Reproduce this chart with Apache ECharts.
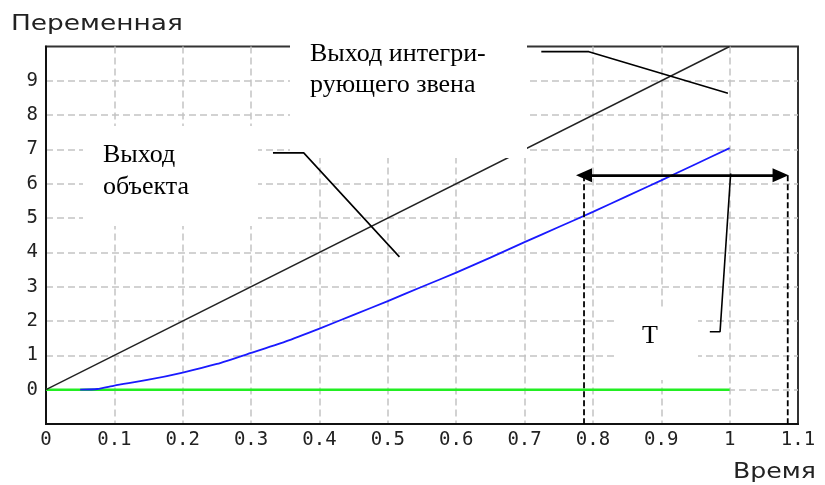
<!DOCTYPE html>
<html>
<head>
<meta charset="utf-8">
<script src="https://cdn.jsdelivr.net/npm/echarts@6/dist/echarts.min.js"></script>
<style>
  html, body { margin: 0; padding: 0; background: #fff; }
  #chart { width: 825px; height: 485px; }
</style>
</head>
<body>
<div id="chart"></div>
<script>
// curves: [time, value]
const integratorOut = [[0, 0], [1, 10]];
const objectOut = [
  [0.05, 0], [0.075, 0.02], [0.1, 0.12], [0.15, 0.29], [0.2, 0.5],
  [0.25, 0.75], [0.3, 1.07], [0.35, 1.4], [0.4, 1.78], [0.45, 2.18],
  [0.5, 2.58], [0.55, 3.0], [0.6, 3.41], [0.65, 3.85], [0.7, 4.3],
  [0.75, 4.74], [0.8, 5.18], [0.85, 5.64], [0.9, 6.1], [0.95, 6.57], [1.0, 7.04]
];
const zeroOut = [[0, 0], [1, 0]];

// annotation lines, also in data units
const integratorLeader = [[0.7245, 9.85], [0.794, 9.85], [0.9975, 8.64]];
const objectLeader = [[0.332, 6.9], [0.377, 6.9], [0.517, 3.87]];
const periodLeader = [[0.971, 1.69], [0.986, 1.69], [1.0015, 6.3]];
const periodArrow = [[0.787, 6.245], [1.0745, 6.245]];
const periodLeftEdge = [[0.787, 6.245], [0.787, -1]];
const periodRightEdge = [[1.085, 6.245], [1.085, -1]];

// value axis shows labels 0..9 only
const yLabels = [0, 1, 2, 3, 4, 5, 6, 7, 8, 9];

const gridLine = { color: "#c4c4c4", width: 1.5, type: [7, 4] };
const tickFont = { fontFamily: "DejaVu Sans Mono", fontSize: 19, color: "#222" };

function plainLine(data, color, width, z, dash) {
  return {
    type: "line",
    data: data,
    symbol: "none",
    silent: true,
    z: z,
    lineStyle: { color: color, width: width, type: dash || "solid" },
  };
}

const chart = echarts.init(document.getElementById("chart"));

const option = {
  animation: false,
  backgroundColor: "#fff",
  grid: {
    left: 46,
    right: 27,
    top: 46.5,
    bottom: 61,
    show: true,
    borderColor: "#333",
    borderWidth: 2,
  },
  xAxis: {
    type: "value",
    min: 0,
    max: 1.1,
    interval: 0.1,
    axisLine: { onZero: false, lineStyle: { color: "#111", width: 2 } },
    axisTick: { show: false },
    axisLabel: {
      ...tickFont,
      margin: 7,
      formatter: (v) => String(+v.toFixed(1)),
    },
    splitLine: { show: true, showMinLine: false, showMaxLine: false, lineStyle: gridLine },
  },
  yAxis: {
    type: "value",
    min: -1,
    max: 10,
    interval: 1,
    axisLine: { show: true, onZero: false, lineStyle: { color: "#111", width: 2 } },
    axisTick: { show: false },
    axisLabel: {
      ...tickFont,
      margin: 8,
      formatter: (v) => (yLabels.includes(v) ? String(v) : ""),
    },
    splitLine: { show: true, showMinLine: false, showMaxLine: false, lineStyle: gridLine },
  },
  // white text boxes sit over the grid, text on top
  graphic: [
    { type: "rect", z: 3, silent: true, shape: { x: 290, y: 38, width: 237, height: 120 }, style: { fill: "#fff" } },
    { type: "rect", z: 3, silent: true, shape: { x: 83, y: 126, width: 175, height: 100 }, style: { fill: "#fff" } },
    { type: "rect", z: 3, silent: true, shape: { x: 617, y: 308, width: 81, height: 72 }, style: { fill: "#fff" } },
    {
      type: "text", z: 6, x: 310, y: 38.5,
      style: { text: "Выход интегри-\nрующего звена", font: "26px 'Liberation Serif'", lineHeight: 31, fill: "#000", verticalAlign: "top" },
    },
    {
      type: "text", z: 6, x: 103, y: 139.5,
      style: { text: "Выход\nобъекта", font: "26px 'Liberation Serif'", lineHeight: 32, fill: "#000", verticalAlign: "top" },
    },
    {
      type: "text", z: 6, x: 642, y: 320.5,
      style: { text: "T", font: "26px 'Liberation Serif'", lineHeight: 31, fill: "#000", verticalAlign: "top" },
    },
    {
      type: "text", z: 6, x: 11, y: 24.3, scaleX: 1.2,
      style: { text: "Переменная", font: "22px 'DejaVu Sans'", fill: "#222", verticalAlign: "middle" },
    },
    {
      type: "text", z: 6, x: 733, y: 472.6, scaleX: 1.2,
      style: { text: "Время", font: "21px 'DejaVu Sans'", fill: "#222", verticalAlign: "middle" },
    },
  ],
  series: [
    plainLine(zeroOut, "#22ee22", 2.5, 2),
    plainLine(integratorOut, "#222", 1.4, 2),
    { ...plainLine(objectOut, "#1a1aff", 1.8, 2), smooth: 0.2 },
    plainLine(integratorLeader, "#000", 1.6, 5),
    plainLine(objectLeader, "#000", 1.6, 5),
    plainLine(periodLeader, "#000", 1.6, 5),
    plainLine(periodLeftEdge, "#000", 1.8, 5, [6, 3]),
    plainLine(periodRightEdge, "#000", 1.8, 5, [6, 3]),
    {
      ...plainLine(periodArrow, "#000", 2, 5),
      markLine: {
        silent: true,
        symbol: ["triangle", "triangle"],
        symbolSize: [14, 16],
        label: { show: false },
        lineStyle: { color: "#000", width: 2, type: "solid" },
        data: [[{ coord: periodArrow[0] }, { coord: periodArrow[1] }]],
      },
    },
  ],
};

chart.setOption(option);
</script>
</body>
</html>
